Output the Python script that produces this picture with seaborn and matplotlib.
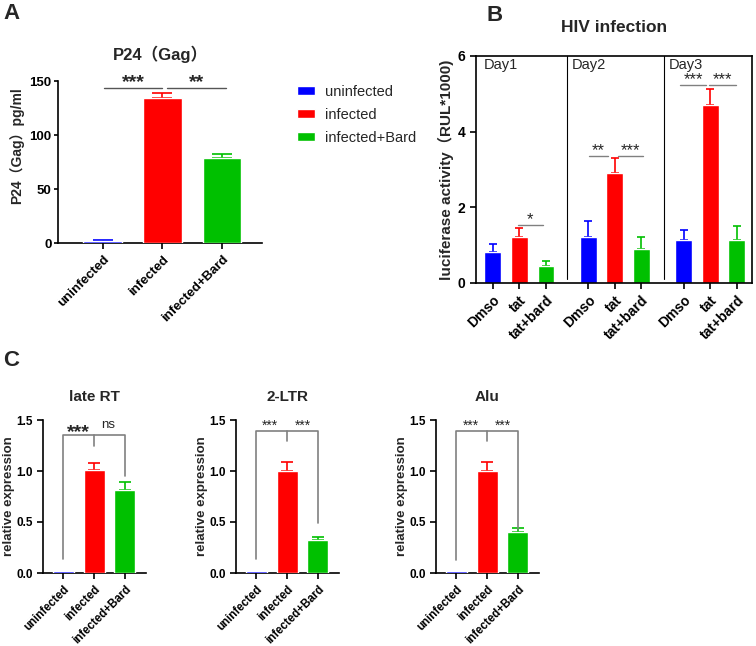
import matplotlib
matplotlib.use("Agg")
import matplotlib.pyplot as plt
import seaborn as sns
import pandas as pd

sns.set_theme(style="ticks")
plt.rcParams['font.family'] = ['Liberation Sans', 'Noto Sans CJK SC', 'DejaVu Sans']
plt.rcParams['axes.linewidth'] = 1.2
plt.rcParams['xtick.major.width'] = 1.2
plt.rcParams['ytick.major.width'] = 1.2
plt.rcParams['xtick.major.size'] = 4
plt.rcParams['ytick.major.size'] = 4
plt.rcParams['axes.edgecolor'] = 'black'
plt.rcParams['xtick.color'] = 'black'
plt.rcParams['ytick.color'] = 'black'

W, H = 756, 646
COLORS = ['#0000FF', '#FF0000', '#00C000']
SIG_GREY = '#808080'

# --- Panel A data ---
A_groups = ['uninfected', 'infected', 'infected+Bard']
A_means = [2.0, 134.0, 79.0]
A_errs = [0.8, 5.0, 3.0]

# --- Panel B data ---
B_days = ['Day1', 'Day2', 'Day3']
B_treatments = ['Dmso', 'tat', 'tat+bard']
B_day1_means = [0.82, 1.21, 0.44]
B_day1_errs = [0.21, 0.24, 0.13]
B_day2_means = [1.21, 2.90, 0.91]
B_day2_errs = [0.43, 0.40, 0.30]
B_day3_means = [1.14, 4.70, 1.14]
B_day3_errs = [0.27, 0.44, 0.36]

# --- Panel C data ---
C_assays = ['late RT', '2-LTR', 'Alu']
C_groups = ['uninfected', 'infected', 'infected+Bard']
C_lateRT_means = [0.015, 1.01, 0.81]
C_lateRT_errs = [0.0, 0.07, 0.085]
C_2LTR_means = [0.015, 1.00, 0.32]
C_2LTR_errs = [0.0, 0.085, 0.03]
C_Alu_means = [0.015, 1.00, 0.40]
C_Alu_errs = [0.0, 0.085, 0.04]


def px_axes(fig, l, t, r, b):
    return fig.add_axes([l / W, 1 - b / H, (r - l) / W, (b - t) / H])


def up_errors(ax, xs, means, errs, colors, capsize):
    for x, m, e, c in zip(xs, means, errs, colors):
        if e <= 0:
            continue
        ax.errorbar([x], [m], yerr=[[0], [e]], fmt='none', ecolor=c,
                    elinewidth=1.2, capsize=capsize, capthick=1.2, zorder=1)


def bold_ticks(ax, xsize, ysize=None):
    for lab in ax.get_xticklabels():
        lab.set_fontweight('bold')
        lab.set_fontsize(xsize)
    for lab in ax.get_yticklabels():
        lab.set_fontweight('bold')
        lab.set_fontsize(ysize or xsize)


fig = plt.figure(figsize=(W / 100, H / 100), dpi=100)

# ================= Panel A =================
axA = px_axes(fig, 58, 81, 262, 243)
sns.barplot(x=A_groups, y=A_means, hue=A_groups, palette=COLORS, order=A_groups,
            hue_order=A_groups, saturation=1, width=0.65, errorbar=None,
            legend=True, ax=axA, zorder=3)
up_errors(axA, range(3), A_means, A_errs, COLORS, 7)
axA.set_xlim(-0.75, 2.67)
axA.set_ylim(0, 150)
axA.set_yticks([0, 50, 100, 150])
axA.tick_params(axis='y', length=3, pad=1.5)
sns.despine(ax=axA)
axA.set_xticks(range(3))
axA.set_xticklabels(A_groups, rotation=45, ha='right', rotation_mode='anchor')
bold_ticks(axA, 9.5)
axA.set_ylabel('P24（Gag）pg/ml', fontsize=10, fontweight='bold')
axA.yaxis.set_label_coords(-0.165, 0.6)
axA.set_title('P24（Gag）', fontsize=12, fontweight='bold', pad=15)
for x0, x1, y, s in [(0.02, 1.0, 143.5, '***'), (1.07, 2.07, 143.5, '**')]:
    axA.plot([x0, x1], [y, y], color='#555555', lw=1, clip_on=False)
    axA.text((x0 + x1) / 2, y + 0.5, s, ha='center', va='baseline',
             fontsize=14, fontweight='bold', clip_on=False)
handles, labels = axA.get_legend_handles_labels()
axA.get_legend().remove()
fig.legend(handles, labels, loc='upper left', bbox_to_anchor=(297 / W, 1 - 85 / H),
           frameon=False, fontsize=10.5, handlelength=1.2, handleheight=0.55,
           handletextpad=0.7, labelspacing=0.6, borderpad=0, borderaxespad=0)

# ================= Panel B =================
axB = px_axes(fig, 476, 56, 752, 283)
group_starts = [0, 3.6, 7.2]
B_means = B_day1_means + B_day2_means + B_day3_means
B_errs = B_day1_errs + B_day2_errs + B_day3_errs
B_pos = [g + i for g in group_starts for i in range(3)]
dfB = pd.DataFrame({'pos': B_pos, 'val': B_means,
                    'treat': B_treatments * 3,
                    'day': [d for d in B_days for _ in range(3)]})
sns.barplot(data=dfB, x='pos', y='val', hue='treat', palette=COLORS,
            hue_order=B_treatments, native_scale=True, dodge=False,
            saturation=1, width=0.64, errorbar=None, legend=False, ax=axB, zorder=2)
up_errors(axB, B_pos, B_means, B_errs, COLORS * 3, 3)
axB.set_xlim(-0.64, 9.77)
axB.set_ylim(0, 6)
axB.set_yticks([0, 2, 4, 6])
axB.set_xticks(B_pos)
axB.set_xticklabels(B_treatments * 3, rotation=45, ha='right', rotation_mode='anchor')
axB.set_xlabel('')
bold_ticks(axB, 10)
axB.set_ylabel('luciferase activity（RUL*1000)', fontsize=11, fontweight='bold', labelpad=3)
axB.set_title('HIV infection', fontsize=12.5, fontweight='bold', pad=17)
for xd in [2.79, 6.45]:
    axB.plot([xd, xd], [0.1, 6], color='black', lw=0.8)
for x, d in zip([-0.34, 2.98, 6.64], B_days):
    axB.text(x, 5.76, d, fontsize=10.5, va='center', ha='left')
B_sigs = [(0.94, 1.89, 1.54, '*'), (3.61, 4.34, 3.36, '**'), (4.72, 5.65, 3.36, '***'),
          (7.07, 8.02, 5.24, '***'), (8.15, 9.17, 5.24, '***')]
for x0, x1, y, s in B_sigs:
    axB.plot([x0, x1], [y, y], color=SIG_GREY, lw=1)
    axB.text((x0 + x1) / 2, y + 0.02, s, ha='center', va='baseline', fontsize=12)

# ================= Panel C =================
C_means = [C_lateRT_means, C_2LTR_means, C_Alu_means]
C_errs = [C_lateRT_errs, C_2LTR_errs, C_Alu_errs]
C_boxes = [(43, 420, 146, 573), (236, 420, 339, 573), (436, 420, 539, 573)]
C_brackets = [(1.35, 0.14, 0.95, 1.245), (1.39, 0.14, 0.49, 1.29), (1.39, 0.13, 0.43, 1.29)]
C_stars = [[(0.5, 1.335, '***', 14, 'bold'), (1.45, 1.42, 'ns', 9.5, 'normal')],
           [(0.45, 1.40, '***', 10, 'normal'), (1.5, 1.40, '***', 10, 'normal')],
           [(0.47, 1.40, '***', 10, 'normal'), (1.5, 1.40, '***', 10, 'normal')]]
for assay, means, errs, box, br, stars in zip(C_assays, C_means, C_errs, C_boxes,
                                               C_brackets, C_stars):
    ax = px_axes(fig, *box)
    sns.barplot(x=C_groups, y=means, hue=C_groups, palette=COLORS, order=C_groups,
                hue_order=C_groups, saturation=1, width=0.68, errorbar=None,
                legend=False, ax=ax, zorder=3)
    up_errors(ax, range(3), means, errs, COLORS, 4)
    ax.set_xlim(-0.65, 2.68)
    ax.set_ylim(0, 1.5)
    ax.set_yticks([0, 0.5, 1.0, 1.5])
    ax.set_yticklabels(['0.0', '0.5', '1.0', '1.5'])
    sns.despine(ax=ax)
    ax.set_xticks(range(3))
    ax.set_xticklabels(C_groups, rotation=45, ha='right', rotation_mode='anchor')
    bold_ticks(ax, 8.3, 8.5)
    ax.set_ylabel('relative expression', fontsize=9.5, fontweight='bold', labelpad=1)
    ax.set_title(assay, fontsize=11, fontweight='bold', pad=14)
    top, left_b, right_b, mid_b = br
    ax.plot([0, 0, 2, 2], [left_b, top, top, right_b], color=SIG_GREY, lw=1.2, zorder=4)
    ax.plot([1, 1], [top, mid_b], color=SIG_GREY, lw=1.2, zorder=4)
    for x, y, s, fs, fw in stars:
        ax.text(x, y, s, ha='center', va='baseline', fontsize=fs, fontweight=fw,
                clip_on=False)

# panel letters
fig.text(3 / W, 1 - 3 / H, 'A', fontsize=16, fontweight='bold', va='top')
fig.text(487 / W, 1 - 5 / H, 'B', fontsize=16, fontweight='bold', va='top')
fig.text(3 / W, 1 - 350 / H, 'C', fontsize=16, fontweight='bold', va='top')

fig.savefig('out.png', dpi=100)
